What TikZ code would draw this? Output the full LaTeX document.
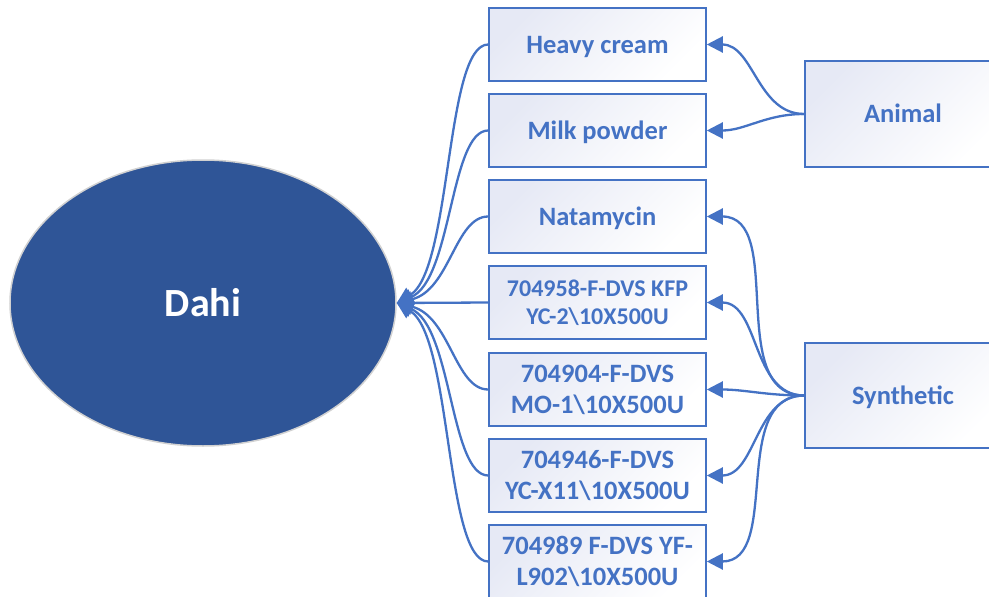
\documentclass[tikz,border=0pt]{standalone}
\usepackage{fontspec}
\setmainfont{Carlito}
\usetikzlibrary{arrows.meta,shapes.geometric}
\definecolor{accent}{HTML}{4472C4}
\definecolor{dahiblue}{HTML}{2F5597}
\definecolor{lav}{HTML}{E6E9F5}
\begin{document}
\begin{tikzpicture}[x=1pt,y=-1pt,
  box/.style={rectangle,draw=accent,line width=1.6pt,top color=lav,bottom color=white,shading angle=45,
    minimum width=217pt,minimum height=73pt,inner sep=0pt,align=center,
    text=accent,font=\fontsize{24}{28}\selectfont\bfseries},
  twobox/.style={box,font=\fontsize{26.5}{31}\selectfont\bfseries},
  onebox/.style={box,font=\fontsize{26.5}{30}\selectfont\bfseries,text height=17pt,text depth=0pt},
  sidebox/.style={onebox,minimum width=196pt},
  arr/.style={draw=accent,line width=2.3pt,-{Triangle[length=16pt,width=16pt]}}]
\clip (0,0) rectangle (989,597);
\fill[white] (0,0) rectangle (989,597);
\node[ellipse,fill=dahiblue,draw=black!18,line width=1.5pt,minimum width=386pt,minimum height=286pt,inner sep=0pt,
  text=white,font=\fontsize{40}{48}\selectfont\bfseries] (dahi) at (203,303) {Dahi};
\node[onebox] (m1) at (597.5,44.5) {Heavy cream};
\node[onebox] (m2) at (597.5,130.5) {Milk powder};
\node[onebox] (m3) at (597.5,216.5) {Natamycin};
\node[box] (m4) at (597.5,302.5) {704958-F-DVS KFP\\YC-2\textbackslash10X500U};
\node[twobox] (m5) at (597.5,389.5) {704904-F-DVS\\MO-1\textbackslash10X500U};
\node[twobox] (m6) at (597.5,475.5) {704946-F-DVS\\YC-X11\textbackslash10X500U};
\node[twobox] (m7) at (597.5,561.5) {704989 F-DVS YF-\\L902\textbackslash10X500U};
\node[sidebox,minimum height=106pt] (animal) at (903,114) {Animal};
\node[sidebox,minimum height=105pt] (synth) at (903,395.5) {Synthetic};
% to Dahi
\draw[arr] (m1.west) .. controls (445,44.5) and (452,270) .. (dahi.east);
\draw[arr] (m2.west) .. controls (450,130.5) and (452,280) .. (dahi.east);
\draw[arr] (m3.west) .. controls (455,216.5) and (450,290) .. (dahi.east);
\draw[arr] (m4.west) -- (dahi.east);
\draw[arr] (m5.west) .. controls (455,389.5) and (450,316) .. (dahi.east);
\draw[arr] (m6.west) .. controls (450,475.5) and (452,326) .. (dahi.east);
\draw[arr] (m7.west) .. controls (445,561.5) and (452,336) .. (dahi.east);
% sources
\draw[arr] (animal.west) to[out=180,in=0] (m1.east);
\draw[arr] (animal.west) to[out=180,in=0] (m2.east);
\draw[arr] (synth.west) to[out=180,in=0] (m3.east);
\draw[arr] (synth.west) to[out=180,in=0] (m4.east);
\draw[arr] (synth.west) to[out=180,in=0] (m5.east);
\draw[arr] (synth.west) to[out=180,in=0] (m6.east);
\draw[arr] (synth.west) to[out=180,in=0] (m7.east);
\end{tikzpicture}
\end{document}
